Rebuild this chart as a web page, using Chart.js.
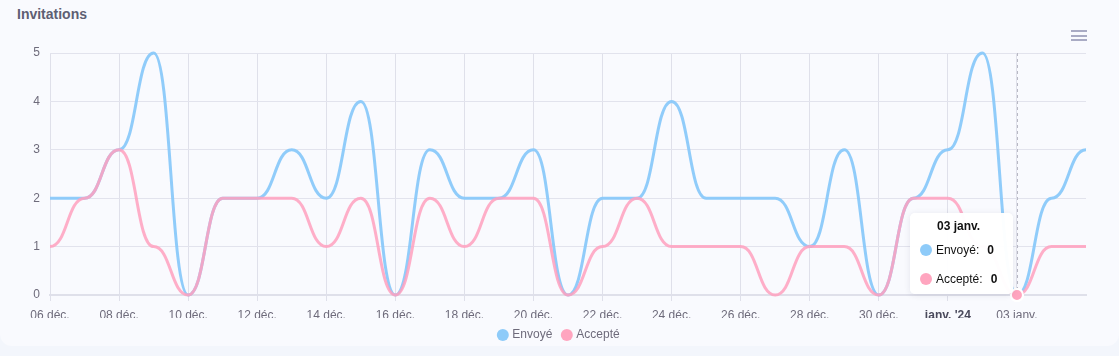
<!DOCTYPE html>
<html>
<head>
<meta charset="utf-8">
<script src="https://cdn.jsdelivr.net/npm/chart.js@4.4.1/dist/chart.umd.min.js"></script>
<style>
  html,body{margin:0;padding:0;width:1119px;height:356px;overflow:hidden;background:#f3f6fc;font-family:"Liberation Sans",Arial,Helvetica,sans-serif}
  #card{position:absolute;left:0;top:-20px;width:1119px;height:366px;background:#f9fafe;border-radius:12px}
  #title{position:absolute;left:17px;top:6px;font-weight:bold;font-size:14px;color:#5e5f73}
  #menu{position:absolute;left:1071px;top:30px;width:16px}
  #menu span{display:block;height:2px;background:#a9abc4;margin-bottom:2.6px}
  #wrap{position:absolute;left:0;top:0;width:1119px;height:351px}
  #tt{position:absolute;display:none;background:rgba(255,255,255,0.97);border-radius:5px;box-shadow:0 1px 6px rgba(40,40,80,0.10);padding:0 16px 1px 10px;font-size:12px;color:#111;white-space:nowrap;pointer-events:none}
  #tt .t{font-weight:bold;text-align:center;height:14px;line-height:14px;padding-top:6px;padding-bottom:2px}
  #tt .r{height:29px;display:flex;align-items:center}
  #tt .d{width:12px;height:12px;border-radius:50%;margin-right:4px;flex:none}
  #tt .v{font-weight:bold;margin-left:8px}
</style>
</head>
<body>
<div id="card"></div>
<div id="title">Invitations</div>
<div id="menu"><span></span><span></span><span></span></div>
<div id="wrap"><canvas id="c"></canvas></div>
<div id="tt"></div>
<script>
const categories = ['06 déc.','07 déc.','08 déc.','09 déc.','10 déc.','11 déc.','12 déc.','13 déc.','14 déc.','15 déc.','16 déc.','17 déc.','18 déc.','19 déc.','20 déc.','21 déc.','22 déc.','23 déc.','24 déc.','25 déc.','26 déc.','27 déc.','28 déc.','29 déc.','30 déc.','31 déc.','01 janv.','02 janv.','03 janv.','04 janv.','05 janv.'];
const tickLabels = ['06 déc.','','08 déc.','','10 déc.','','12 déc.','','14 déc.','','16 déc.','','18 déc.','','20 déc.','','22 déc.','','24 déc.','','26 déc.','','28 déc.','','30 déc.','',"janv. '24",'','03 janv.','',''];
const envoye  = [2,2,3,5,0,2,2,3,2,4,0,3,2,2,3,0,2,2,4,2,2,2,1,3,0,2,3,5,0,2,3];
const accepte = [1,2,3,1,0,2,2,2,1,2,0,2,1,2,2,0,1,2,1,1,1,0,1,1,0,2,2,1,0,1,1];
const seriesNames = ['Envoyé','Accepté'];
const activeIndex = 28;

const FONT = '"Liberation Sans", Arial, Helvetica, sans-serif';
const TXT = '#6e6b7b';
const SMOOTH = 0.5;
Chart.defaults.font.family = FONT;
Chart.defaults.font.size = 12;

function renderTooltip({chart, tooltip}) {
  const el = document.getElementById('tt');
  if (!tooltip.dataPoints || !tooltip.dataPoints.length) { el.style.display = 'none'; return; }
  let html = '<div class="t">' + (tooltip.title || []).join(' ') + '</div>';
  tooltip.dataPoints.forEach(dp => {
    html += '<div class="r"><span class="d" style="background:' + dp.dataset.pointBackgroundColor + '"></span><span>' +
            dp.dataset.label + ':</span><span class="v">' + dp.formattedValue + '</span></div>';
  });
  el.innerHTML = html;
  el.style.display = 'block';
  const x = tooltip.caretX, y = tooltip.caretY;
  el.style.left = (x - 4 - el.offsetWidth) + 'px';
  el.style.top = (y - 1 - el.offsetHeight) + 'px';
}

// smooth curve with horizontal tangents at every data point
const hsmooth = {
  id: 'hsmooth',
  beforeDatasetsDraw(chart) {
    chart.getSortedVisibleDatasetMetas().forEach(meta => {
      const line = meta.dataset, pts = meta.data;
      if (!line) return;
      if (line.updateControlPoints) line.updateControlPoints(chart.chartArea, 'x');
      for (let i = 0; i < pts.length; i++) {
        const p = pts[i], prev = pts[i - 1], next = pts[i + 1];
        const dl = prev ? (p.x - prev.x) * SMOOTH : 0;
        const dr = next ? (next.x - p.x) * SMOOTH : 0;
        p.cp1x = p.x - dl; p.cp1y = p.y;
        p.cp2x = p.x + dr; p.cp2y = p.y;
      }
      line._pointsUpdated = true;
      line._path = undefined;
    });
  }
};

const crosshair = {
  id: 'crosshair',
  beforeDatasetsDraw(chart) {
    const act = chart.getActiveElements();
    if (!act.length) return;
    const x = Math.round(act[0].element.x) + 0.5;
    const {top, bottom} = chart.chartArea;
    const ctx = chart.ctx;
    ctx.save();
    ctx.setLineDash([3, 3]);
    ctx.strokeStyle = '#b9b9c4';
    ctx.lineWidth = 1;
    ctx.beginPath();
    ctx.moveTo(x, top);
    ctx.lineTo(x, bottom);
    ctx.stroke();
    ctx.restore();
  }
};

const chart = new Chart(document.getElementById('c'), {
  type: 'line',
  data: {
    labels: categories,
    datasets: [
      {label: seriesNames[0], data: envoye, order: 1, borderColor: 'rgba(135,200,250,0.92)', backgroundColor: '#8ecbf9',
       pointBackgroundColor: '#8ecbf9', pointBorderColor: '#8ecbf9', pointBorderWidth: 0,
       pointHoverBackgroundColor: '#8ecbf9', pointHoverBorderColor: '#ffffff'},
      {label: seriesNames[1], data: accepte, order: 0, borderColor: 'rgba(255,160,190,0.85)', backgroundColor: '#ffa5bf',
       pointBackgroundColor: '#ffa5bf', pointBorderColor: '#ffa5bf', pointBorderWidth: 0,
       pointHoverBackgroundColor: '#ffa5bf', pointHoverBorderColor: '#ffffff'}
    ]
  },
  options: {
    responsive: true,
    maintainAspectRatio: false,
    animation: false,
    events: [],
    layout: {padding: {left: 0, right: 0, top: 53, bottom: 0}},
    elements: {
      line: {borderWidth: 3, cubicInterpolationMode: 'monotone', fill: false},
      point: {radius: 0, hoverRadius: 6, hoverBorderWidth: 2}
    },
    datasets: {line: {clip: false}},
    interaction: {mode: 'index', intersect: false},
    scales: {
      x: {
        type: 'category',
        offset: false,
        border: {display: true, color: '#dfe0ea', width: 2},
        grid: {
          color: c => (tickLabels[c.index] ? '#dfe0ea' : 'rgba(0,0,0,0)'),
          lineWidth: 1, tickLength: 6, drawTicks: true
        },
        ticks: {
          autoSkip: false, maxRotation: 0, minRotation: 0, padding: 7,
          color: c => (tickLabels[c.index] && tickLabels[c.index].startsWith('janv') ? '#4a4a5c' : TXT),
          font: c => ({family: FONT, size: 12, weight: (tickLabels[c.index] && tickLabels[c.index].startsWith('janv')) ? 'bold' : 'normal'}),
          callback: (v, i) => tickLabels[i]
        },
        afterFit: s => { s.height = 23; }
      },
      y: {
        min: 0, max: 5,
        border: {display: false},
        grid: {color: '#e2e3ed', lineWidth: 1, drawTicks: false},
        ticks: {stepSize: 1, padding: 10, color: TXT, font: {family: FONT, size: 12}},
        afterFit: s => { s.width = 50; }
      },
      y2: {
        position: 'right',
        display: true,
        border: {display: false},
        grid: {display: false, drawTicks: false},
        ticks: {display: false},
        afterFit: s => { s.width = 33; }
      }
    },
    plugins: {
      legend: {
        position: 'bottom',
        labels: {usePointStyle: true, pointStyle: 'circle', boxWidth: 7, boxHeight: 8.5, padding: 11,
                 color: TXT, font: {family: FONT, size: 12},
                 sort: (a, b) => a.datasetIndex - b.datasetIndex}
      },
      tooltip: {enabled: false, external: renderTooltip, mode: 'index', intersect: false, animation: false,
                itemSort: (a, b) => a.datasetIndex - b.datasetIndex}
    }
  },
  plugins: [hsmooth, crosshair]
});

const act = [{datasetIndex: 0, index: activeIndex}, {datasetIndex: 1, index: activeIndex}];
chart.setActiveElements(act);
chart.tooltip.setActiveElements(act, {x: chart.scales.x.getPixelForValue(activeIndex), y: chart.chartArea.bottom});
chart.render();
</script>
</body>
</html>
